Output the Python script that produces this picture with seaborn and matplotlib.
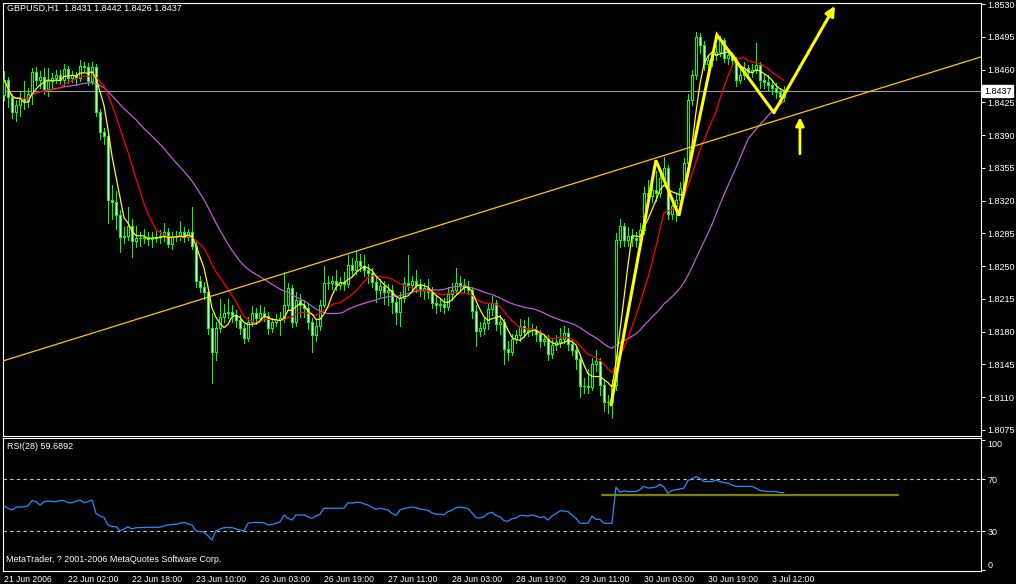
import numpy as np
import pandas as pd
import matplotlib
matplotlib.use("Agg")
import matplotlib.pyplot as plt
import seaborn as sns

# GBPUSD H1, 21 Jun 2006 10:00 .. 3 Jul 2006 15:00
# prices are kept in pips above 1.8000
first_open = 433
close_pips = [
    449, 431, 415, 422, 430, 426, 434, 457, 449, 452,
    439, 448, 451, 454, 449, 461, 451, 454, 451, 464,
    463, 448, 463, 415, 393, 389, 321, 319, 305, 281,
    282, 293, 277, 280, 280, 281, 279, 280, 281, 282,
    287, 274, 281, 282, 287, 281, 286, 271, 234, 228,
    222, 184, 158, 184, 196, 200, 201, 198, 193, 184,
    173, 190, 200, 195, 200, 197, 184, 190, 193, 195,
    209, 227, 190, 214, 209, 205, 190, 176, 186, 209,
    232, 232, 234, 230, 233, 231, 251, 246, 255, 250,
    246, 243, 233, 225, 229, 222, 225, 212, 201, 216,
    232, 230, 234, 230, 225, 227, 222, 211, 209, 210,
    206, 220, 225, 232, 230, 228, 224, 202, 181, 184,
    189, 204, 211, 188, 190, 162, 158, 172, 176, 186,
    180, 182, 182, 178, 170, 172, 156, 166, 169, 172,
    179, 167, 160, 151, 122, 122, 121, 146, 149, 123,
    105, 105, 123, 278, 293, 278, 282, 280, 278, 289,
    328, 325, 331, 328, 344, 355, 306, 314, 321, 334,
    360, 428, 454, 495, 486, 466, 470, 476, 479, 492,
    472, 475, 470, 449, 454, 462, 457, 460, 465, 449,
    447, 443, 440, 436, 431, 437,
]
high_pips = [
    458, 452, 434, 428, 436, 448, 440, 462, 463, 458,
    462, 462, 456, 459, 460, 466, 464, 458, 457, 470,
    468, 467, 468, 466, 418, 398, 392, 337, 330, 310,
    292, 313, 300, 293, 286, 290, 287, 286, 288, 289,
    296, 291, 286, 288, 298, 292, 290, 313, 276, 240,
    233, 226, 200, 190, 215, 210, 215, 208, 203, 198,
    188, 196, 207, 205, 208, 206, 201, 195, 199, 201,
    244, 232, 230, 222, 220, 214, 210, 195, 192, 214,
    250, 240, 239, 246, 238, 244, 262, 259, 266, 263,
    262, 252, 248, 240, 236, 234, 231, 230, 216, 222,
    238, 262, 240, 246, 236, 232, 236, 228, 218, 216,
    216, 228, 232, 248, 240, 236, 234, 228, 208, 190,
    195, 210, 218, 214, 198, 194, 170, 178, 182, 194,
    192, 196, 188, 186, 182, 178, 176, 172, 176, 184,
    186, 184, 172, 165, 156, 130, 140, 152, 160, 152,
    128, 112, 128, 285, 300, 296, 292, 290, 286, 296,
    335, 342, 338, 352, 350, 367, 358, 322, 328, 340,
    366, 434, 460, 500, 499, 490, 476, 480, 486, 496,
    494, 480, 478, 473, 462, 468, 465, 466, 488, 468,
    455, 454, 448, 446, 440, 442,
]
low_pips = [
    428, 420, 408, 405, 410, 418, 420, 423, 444, 440,
    434, 432, 440, 446, 445, 444, 446, 447, 444, 448,
    458, 444, 445, 410, 386, 380, 296, 300, 290, 265,
    275, 278, 260, 270, 272, 275, 273, 270, 276, 275,
    277, 270, 268, 277, 278, 276, 278, 268, 228, 222,
    215, 178, 125, 150, 180, 190, 195, 190, 185, 178,
    168, 170, 186, 188, 192, 191, 178, 180, 186, 176,
    190, 204, 185, 186, 196, 196, 183, 158, 170, 182,
    206, 226, 226, 224, 226, 225, 228, 240, 242, 245,
    240, 232, 228, 212, 218, 210, 208, 200, 188, 186,
    212, 225, 225, 222, 218, 215, 216, 205, 200, 202,
    200, 203, 214, 220, 224, 222, 220, 195, 165, 175,
    178, 183, 198, 182, 178, 145, 150, 155, 168, 170,
    174, 175, 176, 170, 164, 166, 150, 152, 160, 164,
    168, 160, 155, 140, 110, 115, 114, 118, 138, 112,
    95, 93, 88, 118, 270, 272, 272, 272, 270, 274,
    284, 318, 318, 320, 324, 338, 300, 300, 298, 316,
    330, 355, 422, 450, 478, 460, 462, 464, 470, 474,
    468, 466, 465, 442, 446, 450, 452, 452, 456, 440,
    440, 438, 434, 430, 425, 426,
]
rsi28 = [
    49.4, 47.5, 46.3, 48.5, 48.5, 48.8, 49.4, 53.5, 52.7, 50.1,
    52.7, 53.2, 52.9, 52.7, 53.5, 53.5, 51.9, 51.9, 53.0, 54.0,
    51.9, 52.7, 54.0, 43.7, 41.6, 40.5, 34.7, 33.5, 33.3, 30.3,
    31.5, 33.3, 31.6, 32.6, 32.6, 32.8, 32.9, 32.9, 32.9, 32.9,
    34.0, 34.7, 35.0, 35.2, 36.0, 36.7, 35.5, 34.7, 30.0, 29.6,
    29.2, 26.2, 23.1, 30.3, 31.5, 32.6, 32.6, 32.6, 31.6, 30.8,
    30.0, 36.0, 36.5, 36.7, 36.5, 36.4, 34.7, 35.0, 36.0, 37.0,
    42.4, 39.8, 38.5, 42.4, 42.4, 42.4, 41.0, 39.8, 41.6, 43.0,
    47.6, 47.6, 47.6, 47.6, 47.6, 47.6, 51.9, 51.5, 52.2, 52.2,
    51.0, 50.1, 48.5, 46.8, 47.6, 47.0, 46.3, 43.7, 42.0, 46.3,
    47.5, 48.0, 48.5, 48.0, 47.0, 46.5, 46.0, 44.0, 43.0, 43.0,
    42.5, 45.0, 46.0, 48.0, 48.5, 48.0, 47.5, 44.0, 40.5, 40.0,
    41.0, 43.5, 44.5, 42.0, 41.0, 38.0, 37.5, 39.5, 40.0, 42.0,
    42.0, 41.5, 42.5, 41.5, 40.5, 41.0, 38.5, 41.5, 43.5, 45.5,
    45.5, 45.0, 42.4, 40.0, 36.0, 36.0, 36.0, 41.6, 39.0, 39.0,
    36.0, 36.0, 36.0, 63.8, 60.0, 61.0, 60.5, 60.5, 60.5, 62.0,
    64.5, 63.2, 63.5, 64.0, 66.1, 64.0, 59.2, 61.3, 61.9, 62.5,
    63.2, 69.0, 70.5, 72.0, 70.8, 68.2, 68.2, 68.2, 69.5, 68.2,
    67.5, 67.0, 65.6, 64.5, 64.5, 64.5, 64.5, 64.5, 63.2, 61.3,
    61.0, 60.5, 60.5, 60.5, 59.7, 59.69,
]
time_labels = ["21 Jun 2006", "22 Jun 02:00", "22 Jun 18:00", "23 Jun 10:00",
               "26 Jun 03:00", "26 Jun 19:00", "27 Jun 11:00", "28 Jun 03:00",
               "28 Jun 19:00", "29 Jun 11:00", "30 Jun 03:00", "30 Jun 19:00",
               "3 Jul 12:00"]
price_ticks = [1.8075, 1.8110, 1.8145, 1.8180, 1.8215, 1.8250, 1.8285,
               1.8320, 1.8355, 1.8390, 1.8425, 1.8460, 1.8495, 1.8530]
last_price = 1.8437

# hand drawn objects (bar index, price)
zigzag_bars = [151.75, 163.0, 168.75, 178.25, 192.5]
zigzag_prices = [1.8102, 1.8363, 1.8304, 1.8497, 1.8414]
arrow_end = (207.75, 1.8528)
small_arrow_bar = 199.0
small_arrow_prices = [1.8370, 1.8409]
trend_pts = [(0.0, 1.81491), (200.0, 1.84147)]
rsi_level = 57.9
rsi_level_bars = [149.4, 223.5]

# ---- data frame
n = len(close_pips)
df = pd.DataFrame({"bar": np.arange(n)})
df["close"] = 1.8 + np.array(close_pips) / 10000
df["open"] = 1.8 + np.array([first_open] + close_pips[:-1]) / 10000  # MT4 open = prev close
df["high"] = 1.8 + np.array(high_pips) / 10000
df["low"] = 1.8 + np.array(low_pips) / 10000
df["ma5"] = df["close"].rolling(5, min_periods=1).mean()
df["ma13"] = df["close"].rolling(13, min_periods=1).mean()
df["ma34"] = df["close"].rolling(34, min_periods=1).mean()
df["rsi"] = rsi28

sns.set_style("dark")
plt.rcParams["font.family"] = ["Liberation Sans", "DejaVu Sans"]
plt.rcParams["axes.linewidth"] = 0.8

fig = plt.figure(figsize=(10.16, 5.84), dpi=100, facecolor="black")
ax = fig.add_axes([0.00266, 0.25428, 0.9626, 0.7411])
ax_rsi = fig.add_axes([0.00266, 0.02226, 0.9626, 0.22774])

GREEN = "#00FF00"
for a in (ax, ax_rsi):
    a.set_facecolor("black")
    a.grid(False)
    for s in a.spines.values():
        s.set_color("white")
        s.set_linewidth(0.8)
    a.set_xlim(-0.33, 244.2)
    a.tick_params(axis="y", left=False, labelleft=False, right=True, labelright=True,
                  colors="white", length=3, width=0.7, pad=2, labelsize=6.5)

# ---- candles (crisp, like the terminal)
bull = (df["close"] >= df["open"]).values
body_lo = np.minimum(df["open"], df["close"]).values
body_h = np.abs(df["close"] - df["open"]).values
ax.vlines(df["bar"], df["low"], df["high"], color=GREEN, lw=0.72, zorder=2,
          antialiased=False)
ax.bar(df["bar"][bull], body_h[bull], bottom=body_lo[bull], width=0.6,
       color="black", edgecolor=GREEN, linewidth=0.72, zorder=3, antialiased=False)
ax.bar(df["bar"][~bull], body_h[~bull], bottom=body_lo[~bull], width=0.6,
       color="white", edgecolor=GREEN, linewidth=0.72, zorder=3, antialiased=False)

# ---- moving averages
sns.lineplot(data=df, x="bar", y="ma34", ax=ax, color="#C05AD8", linewidth=0.9, zorder=4)
sns.lineplot(data=df, x="bar", y="ma13", ax=ax, color="#FF0000", linewidth=0.9, zorder=4)
sns.lineplot(data=df, x="bar", y="ma5", ax=ax, color="#FFFF00", linewidth=0.9, zorder=4)

# bid line, trend line, zigzag and arrows
ax.axhline(last_price, color="#9A9AA6", lw=0.8, zorder=1)
ax.axline(trend_pts[0], trend_pts[1], color="#FFC800", lw=0.9, zorder=5)
ax.plot(zigzag_bars, zigzag_prices, color="#FFFF00", lw=2.2, zorder=6,
        solid_joinstyle="miter")
ax.annotate("", xy=arrow_end, xytext=(zigzag_bars[-1], zigzag_prices[-1]),
            arrowprops=dict(arrowstyle="-|>", color="#FFFF00", lw=2.2,
                            mutation_scale=14, shrinkA=0, shrinkB=0), zorder=6)
ax.annotate("", xy=(small_arrow_bar, small_arrow_prices[1]),
            xytext=(small_arrow_bar, small_arrow_prices[0]),
            arrowprops=dict(arrowstyle="-|>", color="#FFFF00", lw=2.0,
                            mutation_scale=12, shrinkA=0, shrinkB=0), zorder=6)

ax.set_ylim(1.80691, 1.85314)
ax.set_yticks(price_ticks)
ax.set_yticklabels([f"{p:.4f}" for p in price_ticks])
ax.tick_params(axis="x", bottom=False, labelbottom=False)
ax.set_xlabel("")
ax.set_ylabel("")
ax.text(0.0044, 0.997, "GBPUSD,H1  1.8431 1.8442 1.8426 1.8437", transform=ax.transAxes,
        ha="left", va="top", color="white", fontsize=6.5)
ax.text(1.0034, last_price, f"{last_price:.4f}", transform=ax.get_yaxis_transform(),
        ha="left", va="center", color="black", fontsize=6.5, zorder=10, clip_on=False,
        bbox=dict(boxstyle="square,pad=0.2", fc="white", ec="white"))

# ---- RSI panel
ax_rsi.axhline(70, color="#C8C8C8", lw=0.8, ls=(0, (3, 3)))
ax_rsi.axhline(30, color="#C8C8C8", lw=0.8, ls=(0, (3, 3)))
ax_rsi.plot(rsi_level_bars, [rsi_level, rsi_level], color="#808000", lw=1.6, zorder=2)
sns.lineplot(data=df, x="bar", y="rsi", ax=ax_rsi, color="#1E90FF", linewidth=0.9, zorder=3)
ax_rsi.set_ylim(-0.9, 101.9)
ax_rsi.set_yticks([0, 30, 70, 100])
ax_rsi.set_yticklabels(["0", "30", "70", "100"])
ylabels = ax_rsi.get_yticklabels()
ylabels[0].set_va("bottom")
ylabels[-1].set_va("top")
ax_rsi.set_xticks(np.arange(0, 16 * len(time_labels), 16))
ax_rsi.set_xticklabels(time_labels)
ax_rsi.tick_params(axis="x", colors="white", length=3, width=0.7, pad=0, labelsize=6.2)
for lab in ax_rsi.get_xticklabels():
    lab.set_ha("left")
ax_rsi.set_xlabel("")
ax_rsi.set_ylabel("")
ax_rsi.text(0.0044, 0.97, "RSI(28) 59.6892", transform=ax_rsi.transAxes,
            ha="left", va="top", color="white", fontsize=6.5)
ax_rsi.text(0.0035, 0.05, "MetaTrader, ? 2001-2006 MetaQuotes Software Corp.",
            transform=ax_rsi.transAxes, ha="left", va="bottom", color="white", fontsize=6.5)

fig.savefig("out.png", dpi=100, facecolor="black")
